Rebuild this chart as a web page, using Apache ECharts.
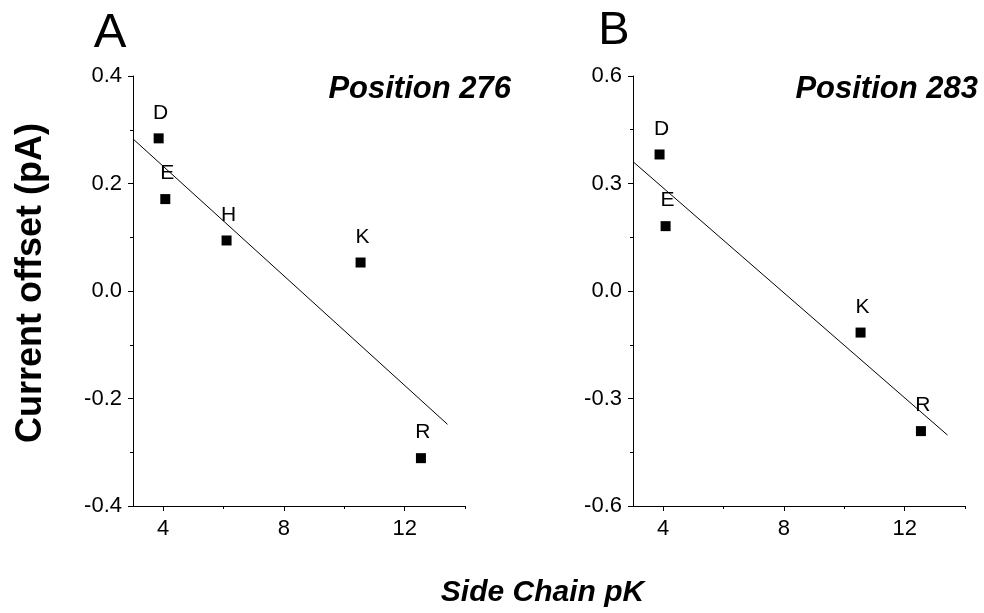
<!DOCTYPE html>
<html>
<head>
<meta charset="utf-8">
<script src="https://cdn.jsdelivr.net/npm/echarts@6/dist/echarts.min.js"></script>
<style>html,body{margin:0;padding:0;background:#fff}#c{width:984px;height:613px}</style>
</head>
<body>
<div id="c"></div>
<script>
// ---- data ----
const namesA = ['D', 'E', 'H', 'K', 'R'];
const pkA = [3.85, 4.07, 6.1, 10.54, 12.54];
const offA = [0.284, 0.171, 0.094, 0.053, -0.311];
const fitA = [[3, 0.283], [13.42, -0.248]];

const namesB = ['D', 'E', 'K', 'R'];
const pkB = [3.88, 4.08, 10.54, 12.54];
const offB = [0.381, 0.181, -0.116, -0.391];
const fitB = [[3, 0.361], [13.42, -0.402]];

const xMajor = [4, 8, 12];
const xMinor = [6, 10, 14];
const titles = ['Position 276', 'Position 283'];
const panelLetters = ['A', 'B'];
const yTitle = 'Current offset (pA)';
const xTitle = 'Side Chain pK';

// ---- chart ----
const FONT = "'Liberation Sans', Arial, sans-serif";
const chart = echarts.init(document.getElementById('c'), null, {renderer: 'canvas'});
const black = '#000';

function xAxes(gi) {
  return [
    {
      type: 'value', gridIndex: gi, min: 3, max: 14,
      axisLine: {show: true, onZero: false, lineStyle: {color: black, width: 1}},
      axisTick: {show: true, length: 5, customValues: xMajor, lineStyle: {color: black}},
      axisLabel: {show: true, customValues: xMajor, margin: 12, color: black, fontSize: 22, fontFamily: FONT},
      splitLine: {show: false}
    },
    {
      type: 'value', gridIndex: gi, min: 3, max: 14, position: 'bottom',
      axisLine: {show: false, onZero: false},
      axisTick: {show: true, length: 3, customValues: xMinor, lineStyle: {color: black}},
      axisLabel: {show: false},
      splitLine: {show: false}
    }
  ];
}
function yAxis(gi, lim, step) {
  return {
    type: 'value', gridIndex: gi, min: -lim, max: lim, interval: step,
    axisLine: {show: true, onZero: false, lineStyle: {color: black, width: 1}},
    axisTick: {show: true, length: 5, lineStyle: {color: black}},
    minorTick: {show: true, splitNumber: 2, length: 3, lineStyle: {color: black}},
    axisLabel: {
      margin: 11, color: black, fontSize: 22, fontFamily: FONT,
      formatter: v => (Math.abs(v) < 1e-9 ? 0 : v).toFixed(1)
    },
    splitLine: {show: false}
  };
}
function scatter(xi, yi, xs, ys, names) {
  return {
    type: 'scatter', xAxisIndex: xi, yAxisIndex: yi,
    symbol: 'rect', symbolSize: 10,
    itemStyle: {color: black, opacity: 1},
    label: {
      show: true, position: 'top', distance: 10, offset: [2, 0],
      color: black, fontSize: 21, fontFamily: FONT,
      formatter: p => p.data[2]
    },
    data: xs.map((x, i) => [x, ys[i], names[i]]),
    z: 3
  };
}
function fit(xi, yi, pts) {
  return {
    type: 'line', xAxisIndex: xi, yAxisIndex: yi,
    data: pts, symbol: 'none', silent: true,
    lineStyle: {color: black, width: 1}, z: 2
  };
}

const option = {
  animation: false,
  backgroundColor: '#fff',
  grid: [
    {left: 133, top: 76, width: 332, height: 430},
    {left: 633, top: 76, width: 332, height: 430}
  ],
  xAxis: [...xAxes(0), ...xAxes(1)],
  yAxis: [yAxis(0, 0.4, 0.2), yAxis(1, 0.6, 0.3)],
  series: [
    fit(0, 0, fitA),
    scatter(0, 0, pkA, offA, namesA),
    fit(2, 1, fitB),
    scatter(2, 1, pkB, offB, namesB)
  ],
  graphic: [
    {type: 'text', x: 110, y: 33, style: {text: panelLetters[0], font: '49px ' + FONT, fill: black, align: 'center', verticalAlign: 'middle'}},
    {type: 'text', x: 614, y: 31, style: {text: panelLetters[1], font: '47px ' + FONT, fill: black, align: 'center', verticalAlign: 'middle'}},
    {type: 'text', x: 511, y: 89, style: {text: titles[0], font: 'italic bold 31px ' + FONT, fill: black, align: 'right', verticalAlign: 'middle'}},
    {type: 'text', x: 978, y: 89, style: {text: titles[1], font: 'italic bold 31px ' + FONT, fill: black, align: 'right', verticalAlign: 'middle'}},
    {type: 'text', x: 542.5, y: 592.5, style: {text: xTitle, font: 'italic bold 30px ' + FONT, fill: black, align: 'center', verticalAlign: 'middle'}},
    {type: 'text', x: 31, y: 283, rotation: Math.PI / 2, style: {text: yTitle, font: 'bold 36px ' + FONT, fill: black, align: 'center', verticalAlign: 'middle'}}
  ]
};
chart.setOption(option);
</script>
</body>
</html>
